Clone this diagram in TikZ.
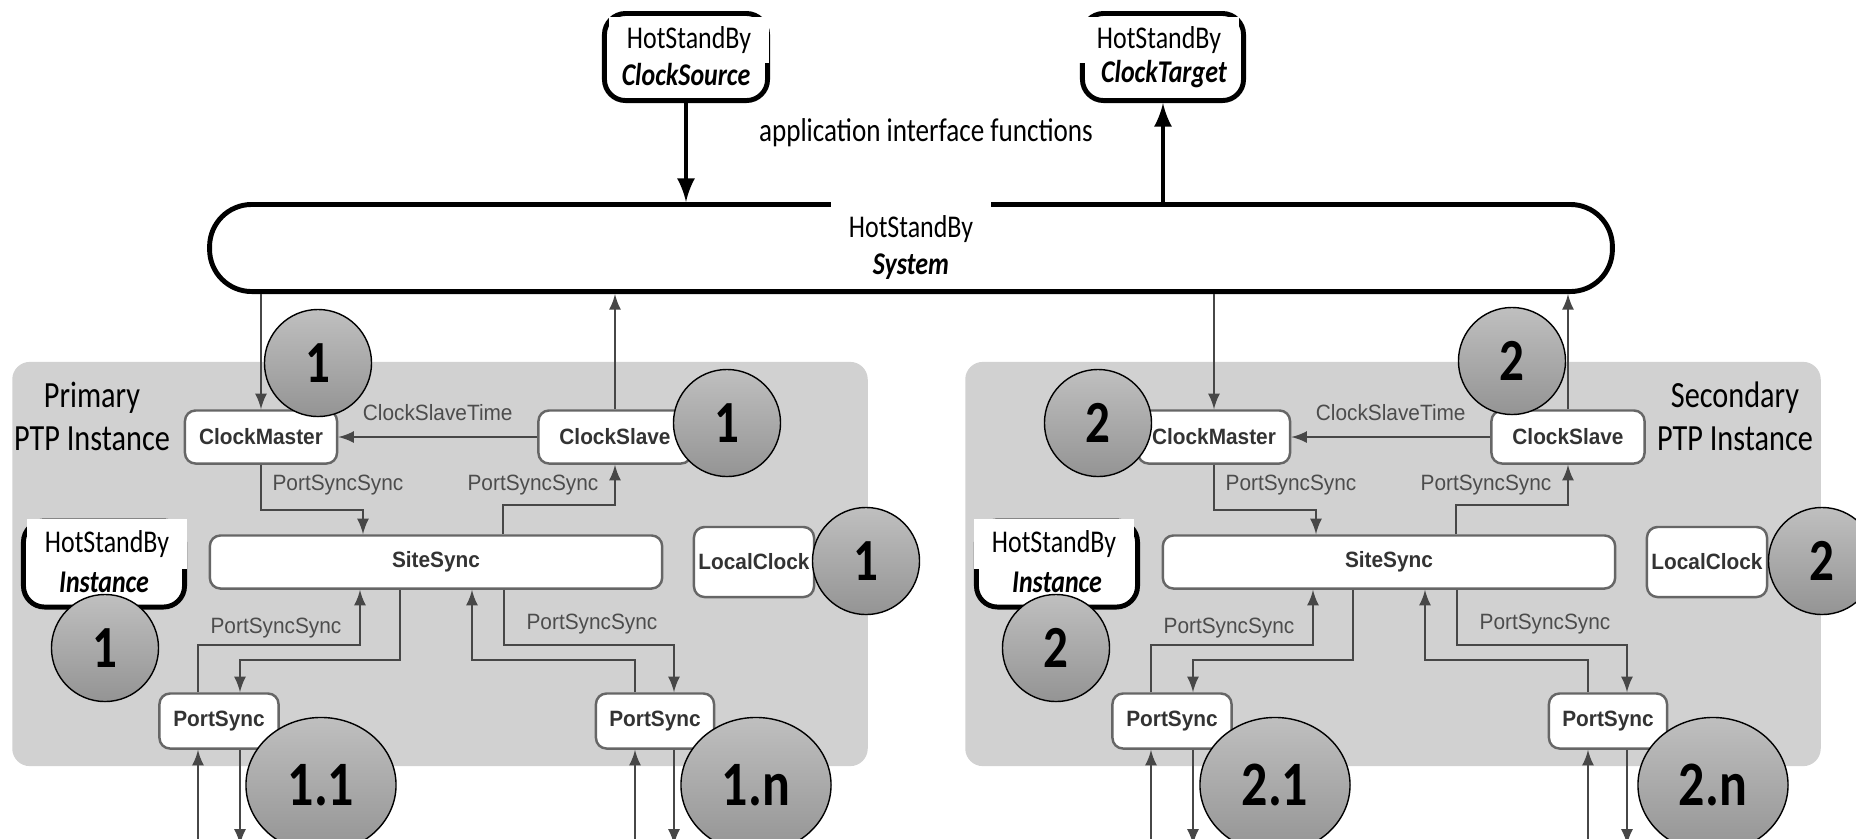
\documentclass[tikz,border=0pt]{standalone}
\usepackage{fontspec}
\setmainfont{Carlito}[FakeStretch=0.82]
\newfontfamily\ptpfont{Liberation Sans}[FakeStretch=0.94]
\usetikzlibrary{shapes,arrows}

\begin{document}
\begin{tikzpicture}[x=0.01cm, y=-0.01cm,
  region/.style={fill=black!18, rounded corners=5pt, minimum width=8.55cm, minimum height=4.04cm},
  blk/.style={draw=black!60, line width=0.7pt, fill=white, rounded corners=3pt, inner sep=1pt, font=\ptpfont\fontsize{6.3}{7}\selectfont\bfseries, text=black!80},
  hsb/.style={draw=black, line width=1.4pt, fill=white, rounded corners=6pt},
  hsl/.style={fill=white, inner sep=0pt, minimum width=1.6cm, minimum height=0.47cm, font=\fontsize{9}{10}\selectfont},
  hsn/.style={font=\fontsize{9}{10}\selectfont\bfseries\itshape},
  apiarrow/.style={draw=black, line width=1.3pt, -latex},
  flow/.style={draw=black!72, line width=0.55pt, -latex},
  lbl/.style={font=\ptpfont\fontsize{6.3}{7}\selectfont, text=black!70},
  num/.style={circle, draw=black, line width=0.4pt, top color=black!25, bottom color=black!42, minimum size=1.07cm, inner sep=0pt, font=\fontsize{17}{17}\selectfont\bfseries},
  port/.style={num, ellipse, minimum width=1.5cm, minimum height=1.35cm, font=\fontsize{18}{18}\selectfont\bfseries}]
\useasboundingbox (0,0) rectangle (1856,838);

\node[hsb, minimum width=1.63cm, minimum height=0.87cm] (src) at (686,57) {};
\node[hsl, minimum height=0.46cm] at (689,40) {HotStandBy};
\node[hsn] at (686,74) {ClockSource};
\node[hsb, minimum width=1.61cm, minimum height=0.87cm] (tgt) at (1163,57) {};
\node[hsl, minimum height=0.46cm] at (1159,40) {HotStandBy};
\node[hsn] at (1164,74) {ClockTarget};
\node[font=\fontsize{9.4}{11}\selectfont] (api) at (926,133) {application interface functions};
\node[hsb, rounded corners=0.42cm, minimum width=14.02cm, minimum height=0.87cm] (sys) at (911,248) {};
\node[hsl, minimum height=0.54cm] at (911,229) {HotStandBy};
\node[hsn] at (911,267) {System};
\draw[apiarrow] (src) -- (src |- sys.north);
\draw[apiarrow] (sys.north -| tgt) -- (tgt);

\foreach \i/\dx/\wx/\side/\tx in {1/0/107/Primary/92, 2/953/101/Secondary/782}{
\begin{scope}[shift={(\dx,0)}]
\node[region] (reg\i) at (440,564) {};
\node[align=center, font=\fontsize{10.5}{12.2}\selectfont] (ptp\i) at (\tx,416) {\side\\PTP Instance};
\node[blk, minimum width=1.52cm, minimum height=0.53cm] (cm\i) at (261,437) {ClockMaster};
\node[blk, minimum width=1.53cm, minimum height=0.53cm] (cs\i) at (615,437) {ClockSlave};
\node[blk, minimum width=4.52cm, minimum height=0.53cm] (ss\i) at (436,562) {SiteSync};
\node[blk, minimum width=1.2cm, minimum height=0.7cm] (lc\i) at (754,562) {LocalClock};
\node[blk, minimum width=1.19cm, minimum height=0.55cm] (psa\i) at (219,721) {PortSync};
\node[blk, minimum width=1.18cm, minimum height=0.55cm] (psb\i) at (655,721) {PortSync};
\node[hsb, minimum width=1.61cm, minimum height=0.86cm] (hi\i) at (104,564) {};
\node[hsl, minimum height=0.5cm] at (\wx,544) {HotStandBy};
\node[hsn] at (104,582) {Instance};
\draw[flow] (sys.south -| cm\i) -- (cm\i);
\draw[flow] (cs\i) -- (cs\i |- sys.south);
\draw[flow] (cs\i) -- node[lbl, above=1pt] {ClockSlaveTime} (cm\i);
\draw[flow] (cm\i) |- (363,510) -- (363,0 |- ss\i.north);
\draw[flow] (503,0 |- ss\i.north) -- (503,505) -| (cs\i);
\draw[flow] (198,0 |- psa\i.north) |- (360,645) -- (360,0 |- ss\i.south);
\draw[flow] (400,0 |- ss\i.south) |- (240,660) -- (240,0 |- psa\i.north);
\draw[flow] (635,0 |- psb\i.north) |- (472,660) -- (472,0 |- ss\i.south);
\draw[flow] (504,0 |- ss\i.south) |- (674,645) -- (674,0 |- psb\i.north);
\draw[flow, latex-] (198,0 |- psa\i.south) -- ++(0,95);
\draw[flow] (240,0 |- psa\i.south) -- ++(0,95);
\draw[flow, latex-] (635,0 |- psb\i.south) -- ++(0,95);
\draw[flow] (674,0 |- psb\i.south) -- ++(0,95);
\node[lbl] at (338,485) {PortSyncSync};
\node[lbl] at (533,485) {PortSyncSync};
\node[lbl] at (276,628) {PortSyncSync};
\node[lbl] at (592,624) {PortSyncSync};
\end{scope}}

\foreach \x/\y/\t [count=\k] in {318/363/1, 727/423/1, 866/561/1, 105/648/1, 1098/423/2, 1512/361/2, 1822/561/2, 1056/648/2}
  \node[num] (num\k) at (\x,\y) {\t};
\foreach \x/\t [count=\k] in {321/1.1, 756/1.n, 1275/2.1, 1713/2.n}
  \node[port] (port\k) at (\x,785) {\t};
\end{tikzpicture}
\end{document}
